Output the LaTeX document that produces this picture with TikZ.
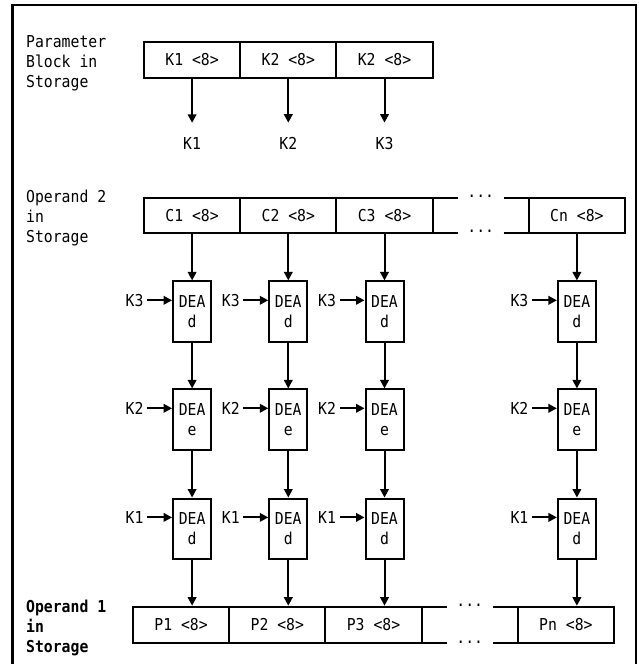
\documentclass[tikz,border=0pt]{standalone}
\usepackage{fontspec}
\newfontfamily\monof[FakeStretch=0.9]{DejaVu Sans Mono}
\usetikzlibrary{arrows.meta,calc}
\begin{document}
\begin{tikzpicture}[x=1pt,y=-1pt,
  every node/.style={inner sep=0pt},
  txt/.style={font=\monof\fontsize{16.4}{20}\selectfont},
  cell/.style={txt,draw,line width=2pt,minimum width=96.2pt},
  deabox/.style={draw,line width=2pt,minimum width=38pt,minimum height=60.5pt,align=center,font=\monof\fontsize{16.4}{20.5}\selectfont},
  arr/.style={line width=2pt,-{Triangle[length=8.5pt,width=8.5pt]}},
  lab/.style={txt,align=left,anchor=north west},
  seg/.style={line width=2pt},
]
\useasboundingbox (0,0) rectangle (639,664);
% frame
\draw[line width=2.7pt] (12.7,670) -- (12.7,5) -- (636,5) -- (636,670);

% parameter block
\node[lab] (lpar) at (26,35.3) {Parameter\\Block in\\Storage};
\node[cell,minimum height=36pt] (pk1) at (192.1,59.7) {K1 <8>};
\node[cell,minimum height=36pt] (pk2) at (288.3,59.7) {K2 <8>};
\node[cell,minimum height=36pt] (pk3) at (384.5,59.7) {K2 <8>};
\node[txt] (kl1) at (192.1,143.3) {K1};
\node[txt] (kl2) at (288.3,143.3) {K2};
\node[txt] (kl3) at (384.5,143.3) {K3};
\foreach \i in {1,2,3}{
  \draw[arr,shorten >=14.3pt] (pk\i.south) -- (kl\i.north);
}

% operand 2
\node[lab] (lop2) at (26,190) {Operand 2\\in\\Storage};
\node[cell,minimum height=35pt] (c1) at (192.1,215.8) {C1 <8>};
\node[cell,minimum height=35pt] (c2) at (288.3,215.8) {C2 <8>};
\node[cell,minimum height=35pt] (c3) at (384.5,215.8) {C3 <8>};
\node[cell,minimum height=35pt] (cn) at (576.9,215.8) {Cn <8>};
\draw[seg] (432.6,198.3) -- (457.7,198.3) (503.7,198.3) -- (528.8,198.3)
           (432.6,233.3) -- (457.7,233.3) (503.7,233.3) -- (528.8,233.3);
\node[txt,anchor=base] (dtc) at (480.7,197.2) {...};
\node[txt,anchor=base] (dbc) at (480.7,232.9) {...};

% DEA stages
\foreach \c/\x in {1/192.1,2/288.3,3/384.5,n/576.9}{
  \foreach \r/\y/\k/\m in {1/311.7/K3/d,2/419.7/K2/e,3/528.8/K1/d}{
    \node[deabox] (d\r\c) at (\x,\y) {DEA\\\m};
    \node[txt,anchor=east] (k\r\c) at ($(d\r\c.west)+(-28.4,-11.4)$) {\k};
    \draw[arr,shorten <=3.4pt] (k\r\c.east) -- (k\r\c.east -| d\r\c.west);
  }
  \draw[arr] (c\c.south -| d1\c) -- (d1\c.north);
  \draw[arr] (d1\c.south) -- (d2\c.north);
  \draw[arr] (d2\c.south) -- (d3\c.north);
}

% operand 1
\node[lab,font=\monof\bfseries\fontsize{16.4}{20}\selectfont] (lop1) at (26,599.5) {Operand 1\\in\\Storage};
\node[cell,minimum height=36pt] (p1) at (181.1,624.7) {P1 <8>};
\node[cell,minimum height=36pt] (p2) at (277.3,624.7) {P2 <8>};
\node[cell,minimum height=36pt] (p3) at (373.5,624.7) {P3 <8>};
\node[cell,minimum height=36pt] (pn) at (565.9,624.7) {Pn <8>};
\draw[seg] (421.6,606.7) -- (446.75,606.7) (492.75,606.7) -- (517.8,606.7)
           (421.6,642.7) -- (446.75,642.7) (492.75,642.7) -- (517.8,642.7);
\node[txt,anchor=base] (dtp) at (469.75,606.2) {...};
\node[txt,anchor=base] (dbp) at (469.75,643.9) {...};
\draw[arr] (d31.south) -- (d31.south |- p1.north);
\draw[arr] (d32.south) -- (d32.south |- p2.north);
\draw[arr] (d33.south) -- (d33.south |- p3.north);
\draw[arr] (d3n.south) -- (d3n.south |- pn.north);
\end{tikzpicture}
\end{document}
